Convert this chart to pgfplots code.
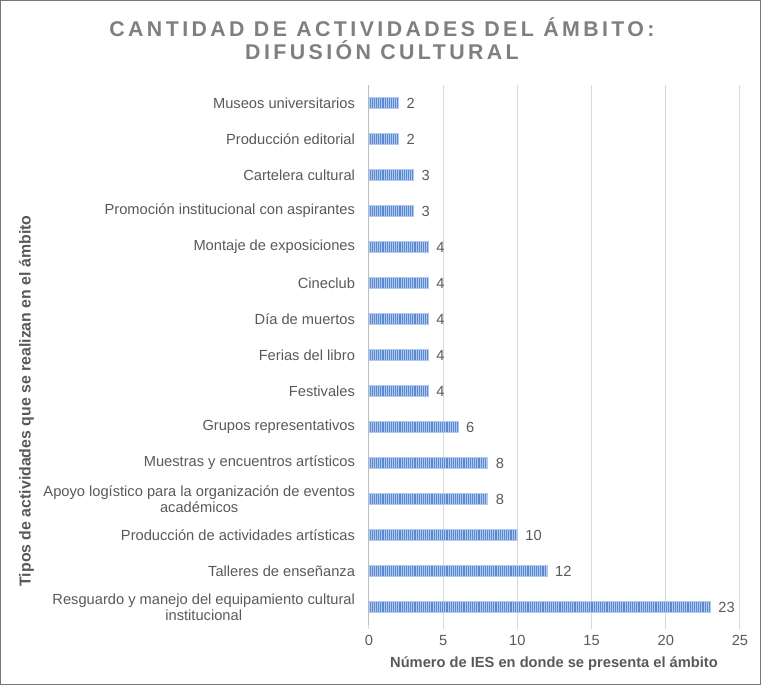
\documentclass[border=0pt]{standalone}
\usepackage{pgfplots}
\pgfplotsset{compat=1.18}
\usepackage{fontspec}
\setmainfont{Liberation Sans}
\usetikzlibrary{patterns.meta}
\definecolor{txt}{HTML}{595959}
\definecolor{ttl}{HTML}{7F7F7F}
\definecolor{grd}{HTML}{D9D9D9}
\definecolor{axl}{HTML}{BFBFBF}
\definecolor{barA}{HTML}{5A89D1}
\definecolor{barB}{HTML}{B0C9EE}
\definecolor{frm}{HTML}{767676}
\pgfplotstableread{
y v
0 23
1 12
2 10
3 8
4 8
5 6
6 4
7 4
8 4
9 4
10 4
11 3
12 3
13 2
14 2
}\datatable
\begin{document}
\begin{tikzpicture}
\begin{axis}[
  at={(0pt,0pt)}, anchor=south west,
  scale only axis, width=278.25pt, height=405pt,
  xbar, bar width=8.25pt,
  xmin=0, xmax=25, ymin=-0.5, ymax=14.5,
  xtick={0,5,...,25},
  ytick={0,...,14},
  yticklabels={{Resguardo y manejo del equipamiento cultural\\institucional},
    {Talleres de enseñanza},
    {Producción de actividades artísticas},
    {Apoyo logístico para la organización de eventos\\académicos},
    {Muestras y encuentros artísticos},
    {Grupos representativos},
    {Festivales},
    {Ferias del libro},
    {Día de muertos},
    {Cineclub},
    {Montaje de exposiciones},
    {Promoción institucional con aspirantes},
    {Cartelera cultural},
    {Producción editorial},
    {Museos universitarios}},
  xmajorgrids, grid style={grd, line width=0.75pt},
  axis lines*=left,
  x axis line style={draw=none},
  y axis line style={axl, line width=0.75pt},
  ytick style={draw=none},
  xtick style={grd, line width=0.75pt},
  tick align=outside, major tick length=3pt,
  /pgf/number format/assume math mode=true,
  xticklabel style={font=\fontsize{11}{13}\selectfont, text=txt, yshift=-1pt},
  yticklabel style={font=\fontsize{11}{12}\selectfont, text=txt, align=center, xshift=-4pt},
  clip=false,
]
\addplot[draw=barB, line width=0.4pt, fill=barA,
  postaction={pattern={Lines[angle=90,distance=1.6pt,line width=0.7pt]}, pattern color=barB},
  nodes near coords,
  nodes near coords style={font=\fontsize{11}{13}\selectfont, text=txt, anchor=west, xshift=2.5pt}]
  table[x=v, y=y] {\datatable};
\end{axis}
\node[ttl, font=\bfseries\fontsize{16}{17.25}\selectfont\addfontfeature{LetterSpace=16}, align=center] at (9.75pt,439.9pt) {CANTIDAD DE ACTIVIDADES DEL ÁMBITO:\\DIFUSIÓN CULTURAL};
\node[txt, font=\bfseries\fontsize{11.9}{13}\selectfont, rotate=90] at (-257pt,168pt) {Tipos de actividades que se realizan en el ámbito};
\node[txt, font=\bfseries\fontsize{11}{13}\selectfont] at (138.75pt,-29pt) {Número de IES en donde se presenta el ámbito};
\draw[frm, line width=0.75pt] (-276.375pt,-44.625pt) rectangle (293.625pt,468.375pt);
\end{tikzpicture}
\end{document}
